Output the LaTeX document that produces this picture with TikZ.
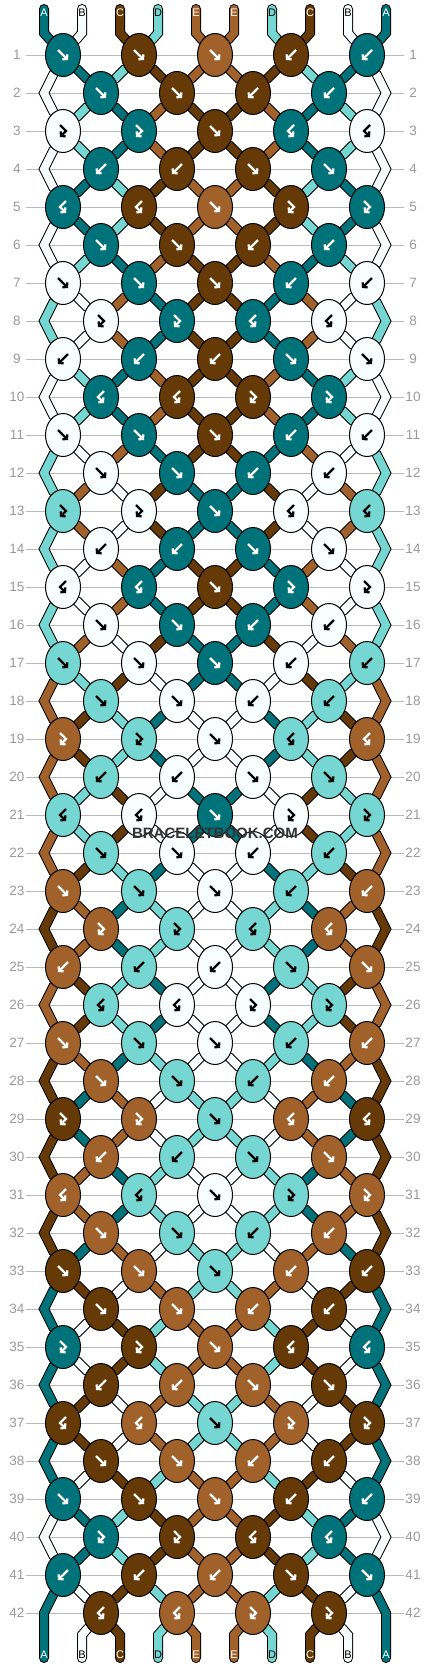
\documentclass[tikz,border=0pt]{standalone}
\usepackage{fontspec}
\setmainfont{Liberation Sans}
\usetikzlibrary{shapes.geometric}
\usetikzlibrary{arrows.meta}

\definecolor{colA}{HTML}{00737A}
\definecolor{colB}{HTML}{F8FEFE}
\definecolor{colC}{HTML}{663A06}
\definecolor{colD}{HTML}{75D6D2}
\definecolor{colE}{HTML}{A0612A}
\colorlet{tipA}{white}
\colorlet{tipB}{black}
\colorlet{tipC}{white}
\colorlet{tipD}{black}
\colorlet{tipE}{white}

\pgfdeclarelayer{grid}
\pgfdeclarelayer{strings}
\pgfsetlayers{grid,strings,main}

\def\pickf{sL}\def\pickfb{sL}\def\pickb{sR}\def\pickbf{sR}
\def\swapf{1}\def\swapb{1}\def\swapfb{0}\def\swapbf{0}

\newcommand\strand[2]{%
  \draw[line width=10pt, line cap=round, draw=black] #2;
  \draw[line width=8pt, line cap=round, draw=col#1] #2;}

\newcommand\addstrand[2]{%
  \xdef\strandlist{\unexpanded\expandafter{\strandlist}\noexpand\strand{#1}{#2}}}

\newcommand\strandin[2]{%
  \edef\fromnode{\csname p#1\endcsname}%
  \edef\vianode{\csname v#1\endcsname}%
  \edef\strandcol{\csname s#1\endcsname}%
  \ifx\vianode\empty
    \addstrand{\strandcol}{(\fromnode) -- (#2)}%
  \else
    \addstrand{\strandcol}{(\fromnode) -- (\vianode) -- (#2)}%
  \fi}

\newcommand\glyphf[2]{\draw[tip, draw=#2] ([shift={(-5,-5)}]#1.center) -- ([shift={(5,5)}]#1.center);}
\newcommand\glyphb[2]{\draw[tip, draw=#2] ([shift={(5,-5)}]#1.center) -- ([shift={(-5,5)}]#1.center);}
\newcommand\glyphfb[2]{\draw[tip, draw=#2] ([shift={(-3,-6)}]#1.center) -- ([shift={(3,0)}]#1.center) -- ([shift={(-3,6)}]#1.center);}
\newcommand\glyphbf[2]{\draw[tip, draw=#2] ([shift={(3,-6)}]#1.center) -- ([shift={(-3,0)}]#1.center) -- ([shift={(3,6)}]#1.center);}

\begin{document}
\begin{tikzpicture}[x=1pt, y=-1pt,
  knot/.style={ellipse, draw=black, line width=1pt, minimum width=35pt, minimum height=43pt, inner sep=0pt},
  tip/.style={line width=2.2pt, -{Straight Barb[length=3pt,width=7pt]}},
  rownum/.style={text=black!40, font=\fontsize{13.5}{13.5}\selectfont},
  endlabel/.style={font=\fontsize{11}{11}\selectfont, inner sep=0pt}]
\useasboundingbox (0,0) rectangle (430,1668);

\begin{pgfonlayer}{grid}
\foreach \rw in {1,...,42} {
  \pgfmathsetmacro\y{55+38*(\rw-1)}
  \draw[black!27, line width=1pt] (26,\y) -- (404,\y);
}
\end{pgfonlayer}
\foreach \rw in {1,...,42} {
  \pgfmathsetmacro\y{55+38*(\rw-1)}
  \node[rownum] (left-\rw) at (17,\y) {\rw};
  \node[rownum] (right-\rw) at (413,\y) {\rw};
}

\gdef\strandlist{}
\foreach \letter [count=\i] in {A,B,C,D,E,E,D,C,B,A} {
  \pgfmathsetmacro\x{215+(\i-5.5)*38}
  \coordinate (top-\i) at (\x,9);
  \coordinate (topbend-\i) at (\x,33);
  \coordinate (botbend-\i) at (\x,1635);
  \coordinate (bot-\i) at (\x,1658);
  \node[endlabel, text=tip\letter] (toplabel-\i) at (\x,13) {\letter};
  \node[endlabel, text=tip\letter] (botlabel-\i) at (\x,1655) {\letter};
  \expandafter\xdef\csname s\i\endcsname{\letter}
  \expandafter\xdef\csname p\i\endcsname{top-\i}
  \expandafter\xdef\csname v\i\endcsname{topbend-\i}
}

\foreach \kinds [count=\rw] in {
  {f,f,f,b,b},{f,f,b,b},{fb,fb,f,bf,bf},{b,b,f,f},{bf,bf,f,fb,fb},{f,f,b,b},
  {f,f,f,b,b},{fb,fb,bf,bf},{b,b,b,f,f},{bf,bf,fb,fb},{f,f,f,b,b},{f,f,b,b},
  {fb,fb,f,bf,bf},{b,b,f,f},{bf,bf,f,fb,fb},{f,f,b,b},{f,f,f,b,b},{f,f,b,b},
  {fb,fb,f,bf,bf},{b,b,f,f},{bf,bf,f,fb,fb},{f,f,b,b},{f,f,f,b,b},{fb,fb,bf,bf},
  {b,b,b,f,f},{bf,bf,fb,fb},{f,f,f,b,b},{f,f,b,b},{fb,fb,f,bf,bf},{b,b,f,f},
  {bf,bf,f,fb,fb},{f,f,b,b},{f,f,f,b,b},{f,f,b,b},{fb,fb,f,bf,bf},{b,b,f,f},
  {bf,bf,f,fb,fb},{f,f,b,b},{f,f,f,b,b},{fb,fb,bf,bf},{b,b,b,f,f},{bf,bf,fb,fb}} {
  \pgfmathsetmacro\y{55+38*(\rw-1)}
  \ifodd\rw\relax\else
    \coordinate (edge-\rw-1) at (44,\y);
    \coordinate (edge-\rw-10) at (386,\y);
    \expandafter\xdef\csname v1\endcsname{edge-\rw-1}
    \expandafter\xdef\csname v10\endcsname{edge-\rw-10}
  \fi
  \foreach \kind [count=\j] in \kinds {
    \pgfmathtruncatemacro\cl{2*\j-mod(\rw,2)}
    \pgfmathtruncatemacro\cr{\cl+1}
    \pgfmathsetmacro\x{215+(\cl-5)*38}
    \edef\sL{\csname s\cl\endcsname}
    \edef\sR{\csname s\cr\endcsname}
    \edef\kc{\csname\csname pick\kind\endcsname\endcsname}
    \node[knot, fill=col\kc] (k-\rw-\cl) at (\x,\y) {};
    \csname glyph\kind\endcsname{k-\rw-\cl}{tip\kc}
    \strandin{\cl}{k-\rw-\cl}
    \strandin{\cr}{k-\rw-\cl}
    \expandafter\xdef\csname p\cl\endcsname{k-\rw-\cl}
    \expandafter\xdef\csname p\cr\endcsname{k-\rw-\cl}
    \expandafter\xdef\csname v\cl\endcsname{}
    \expandafter\xdef\csname v\cr\endcsname{}
    \if1\csname swap\kind\endcsname
      \expandafter\xdef\csname s\cl\endcsname{\sR}
      \expandafter\xdef\csname s\cr\endcsname{\sL}
    \fi
  }
}

\foreach \i in {1,...,10} {
  \edef\fromnode{\csname p\i\endcsname}
  \edef\vianode{\csname v\i\endcsname}
  \edef\strandcol{\csname s\i\endcsname}
  \ifx\vianode\empty
    \addstrand{\strandcol}{(\fromnode) -- (botbend-\i) -- (bot-\i)}
  \else
    \addstrand{\strandcol}{(\fromnode) -- (\vianode) -- (botbend-\i) -- (bot-\i)}
  \fi
}

\begin{pgfonlayer}{strings}
\strandlist
\end{pgfonlayer}

\node[font=\bfseries\fontsize{15}{15}\selectfont, text=black!80] (mark) at (215,833) {BRACELETBOOK.COM};
\end{tikzpicture}
\end{document}
